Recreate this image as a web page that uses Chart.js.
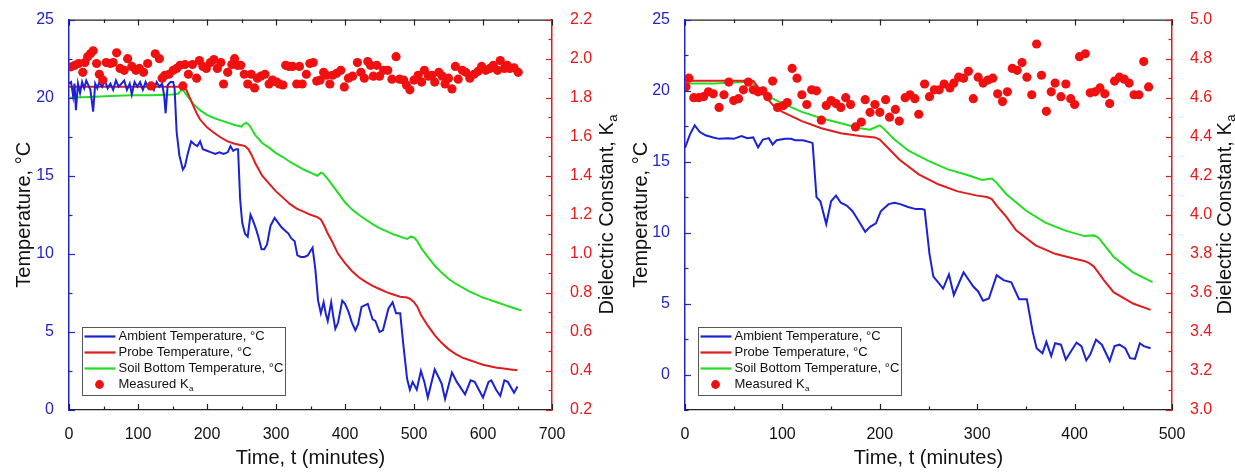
<!DOCTYPE html>
<html>
<head>
<meta charset="utf-8">
<script src="https://cdn.jsdelivr.net/npm/chart.js@4.4.0/dist/chart.umd.min.js"></script>
<style>
  body { margin: 0; background: #fff; }
  .row { display: flex; width: 1235px; height: 472px; }
  .panel { position: relative; height: 472px; }
</style>
</head>
<body>
<div class="row">
  <div class="panel" style="width:617px"><canvas id="left"></canvas></div>
  <div class="panel" style="width:618px"><canvas id="right"></canvas></div>
</div>
<script>
// ---- left panel data ----
const ambTimeA = [0,3,6,8,10,13,16,19,22,25,28,31,35,38,41,44,48,52,56,60,64,68,72,76,80,84,88,91,95,99,103,107,111,115,119,123,127,131,135,138,140,143,147,151,153,156,160,165,168,172,177,182,186,190,194,200,206,212,218,224,230,234,238,242,245,248,251,255,259,263,266,271,275,279,283,287,292,298,303,308,313,318,322,327,331,336,341,346,353,357,361,365,369,372,375,380,383,386,390,396,400,405,410,415,419,424,433,440,444,450,455,463,469,474,480,485,490,494,498,504,510,515,520,530,540,545,555,562,574,582,588,594,600,608,612,619,625,631,636,645,650];
const ambTempA = [20.9,21.0,20.1,20.9,19.2,20.9,20.3,21.0,20.6,21.1,20.8,20.5,19.1,20.9,20.6,21.0,20.7,21.1,20.6,20.9,20.5,21.1,20.7,20.9,21.1,20.5,20.9,20.2,21.0,20.7,21.0,20.5,21.0,20.6,20.9,20.5,21.0,20.7,20.9,20.1,19.0,20.8,21.0,21.0,20.6,17.8,16.3,15.4,15.6,16.4,17.2,17.0,16.9,17.2,16.7,16.6,16.5,16.4,16.5,16.4,16.5,16.9,16.6,16.7,16.7,13.5,12.0,11.3,11.1,12.5,12.2,11.6,11.0,10.3,10.3,10.6,11.8,12.3,12.0,11.7,11.5,11.3,11.0,10.8,9.9,9.8,9.8,9.9,10.4,9.0,7.0,6.2,6.9,6.2,5.7,6.9,6.0,5.2,5.6,7.0,6.8,6.3,5.6,5.1,5.5,6.6,6.8,5.8,5.7,5.0,5.1,6.5,6.9,6.2,6.2,4.0,2.0,1.3,1.8,1.3,2.5,1.8,0.8,2.6,1.7,0.7,2.4,1.8,1.0,1.9,1.8,1.3,0.8,1.8,1.9,1.3,0.9,1.9,1.8,1.1,1.5];

const probeTimeA = [0,165,170,175,180,185,190,200,210,220,230,240,250,255,260,265,270,280,290,300,310,320,330,340,350,360,365,370,375,380,390,400,410,420,430,440,450,460,470,480,490,495,500,505,510,520,530,540,550,560,570,580,590,600,610,620,630,640,650];
const probeTempA = [20.7,20.7,20.5,20.0,19.5,19.0,18.6,18.1,17.75,17.45,17.2,17.05,16.95,16.9,16.7,16.3,15.8,15.0,14.5,14.0,13.6,13.2,12.9,12.7,12.5,12.35,12.2,11.8,11.3,10.9,10.0,9.4,8.9,8.5,8.2,7.95,7.75,7.55,7.4,7.25,7.2,7.1,6.9,6.6,6.1,5.4,4.8,4.3,3.9,3.6,3.35,3.2,3.05,2.9,2.8,2.7,2.65,2.6,2.55];

const soilTimeA = [0,30,60,90,120,150,158,163,166,170,175,180,190,200,210,220,230,240,250,253,257,262,270,280,290,300,310,320,330,340,350,360,365,368,375,380,390,400,410,420,430,440,450,460,470,480,490,495,500,505,510,520,530,540,550,560,570,580,590,600,610,620,630,640,650,656];
const soilTempA = [20.0,20.05,20.1,20.15,20.15,20.2,20.25,20.5,20.45,20.2,19.9,19.6,19.2,18.9,18.7,18.55,18.4,18.25,18.15,18.3,18.4,18.2,17.6,17.1,16.8,16.45,16.2,15.9,15.65,15.4,15.2,15.0,15.2,15.15,14.8,14.5,13.9,13.3,12.85,12.5,12.2,11.9,11.65,11.45,11.25,11.1,10.95,11.1,11.05,10.8,10.4,9.8,9.25,8.8,8.4,8.1,7.85,7.6,7.4,7.2,7.05,6.9,6.75,6.6,6.45,6.38];

const kaTimeA = [3,8.5,14,20,23,27,31,35,40,44,49,54,60,64,69,74,80,85,91,97,102,108,114,119,125,131,135,139,145,151,156,161,165,168,173,179,185,189,194,199,205,210,215,220,224,230,236,240,244,249,254,259,264,269,273,278,284,290,295,301,305,310,314,319,324,330,334,338,344,349,354,359,364,369,373,378,382,388,394,399,405,411,418,423,428,433,437,441,446,450,456,462,468,474,479,485,489,494,500,506,511,515,521,526,530,536,541,545,550,555,560,564,570,575,581,587,593,598,604,610,615,621,625,631,635,639,645,651];
const kaA = [1.958,1.966,1.975,1.93,1.98,2.01,2.025,2.04,1.975,1.92,1.89,1.98,1.975,1.98,2.03,1.95,1.94,2.0,1.96,1.94,1.95,1.93,1.975,1.86,2.025,2.0,1.9,1.915,1.92,1.94,1.95,1.966,1.86,1.97,1.92,1.97,1.9,1.99,1.96,1.95,1.98,1.995,1.95,1.98,1.87,1.93,1.97,2.0,1.966,1.966,1.92,1.87,1.92,1.85,1.9,1.91,1.92,1.87,1.89,1.88,1.87,1.865,1.966,1.96,1.96,1.87,1.96,1.87,1.92,1.975,1.98,1.885,1.89,1.93,1.915,1.87,1.915,1.925,1.94,1.855,1.9,1.91,1.98,1.93,1.9,1.985,1.966,1.91,1.966,1.91,1.94,1.94,1.895,2.01,1.895,1.89,1.865,1.84,1.89,1.915,1.88,1.94,1.91,1.915,1.88,1.93,1.91,1.87,1.9,1.845,1.96,1.895,1.94,1.93,1.9,1.92,1.935,1.96,1.94,1.95,1.966,1.94,1.99,1.95,1.966,1.95,1.953,1.93];

const timeTicksA = [0,100,200,300,400,500,600,700];
const tempTicksA = [0,5,10,15,20,25];
const kaTicksA = [0.2,0.4,0.6,0.8,1.0,1.2,1.4,1.6,1.8,2.0,2.2];

// ---- right panel data ----
const ambTimeB = [0,5,10,15,21,29,35,44,50,58,64,70,75,80,86,90,94,103,109,113,121,129,131,135,139,145,150,155,160,166,172,178,185,190,196,201,209,215,221,229,237,243,246,251,255,261,265,271,276,286,296,301,306,312,320,327,335,343,351,357,361,367,371,376,380,386,391,396,402,407,412,416,422,428,436,441,446,452,457,462,467,471,478];
const ambTempB = [15.97,16.9,17.55,17.1,16.85,16.7,16.6,16.65,16.6,16.8,16.65,16.7,16.0,16.55,16.65,16.2,16.5,16.6,16.6,16.5,16.5,16.35,16.3,12.5,12.2,10.6,12.2,12.6,12.1,11.9,11.5,10.85,10.05,10.4,10.65,11.5,12.0,12.1,12.0,11.8,11.65,11.65,11.6,8.5,6.9,6.4,6.05,7.05,5.6,7.2,6.2,5.85,5.2,5.35,7.0,6.65,6.5,5.3,5.3,3.0,1.85,1.5,2.3,1.3,2.2,2.1,1.05,1.6,2.25,2.0,1.0,1.4,2.45,2.1,0.95,2.0,2.1,1.85,1.15,1.1,2.2,2.0,1.85];

const probeTimeB = [0,70,80,90,100,120,140,160,180,195,200,210,220,240,260,280,300,310,315,320,330,340,360,380,400,410,415,420,430,440,460,478];
const probeTempB = [20.7,20.7,19.8,19.0,18.5,17.85,17.35,17.0,16.8,16.7,16.55,15.85,15.15,14.1,13.4,12.9,12.6,12.5,12.35,11.9,11.1,10.15,9.1,8.5,8.15,8.0,7.85,7.6,6.65,5.8,5.0,4.55];

const soilTimeB = [0,30,60,65,75,85,100,120,140,160,180,190,195,200,205,215,230,250,270,290,305,310,315,320,330,350,370,390,410,420,425,440,460,480];
const soilTempB = [20.5,20.5,20.6,20.8,20.15,19.6,19.1,18.5,18.05,17.7,17.35,17.25,17.4,17.55,17.25,16.55,15.75,15.05,14.45,14.05,13.7,13.75,13.8,13.5,12.7,11.55,10.7,10.15,9.75,9.8,9.6,8.3,7.2,6.5];

const kaTimeB = [1,4,9,14,19,24,29,35,40,45,50,55,60,65,70,75,80,85,90,95,101,105,110,115,120,125,130,135,140,145,150,155,160,165,170,175,181,185,190,195,200,206,210,216,220,226,231,236,240,246,251,256,261,266,272,276,281,286,291,296,301,306,311,316,321,326,331,336,341,346,351,356,361,366,371,376,380,386,391,396,400,405,411,416,421,426,431,436,441,446,451,456,461,466,471,476];
const kaB = [4.656,4.70,4.60,4.60,4.605,4.63,4.62,4.55,4.615,4.68,4.585,4.595,4.64,4.68,4.64,4.63,4.635,4.605,4.685,4.55,4.56,4.575,4.75,4.70,4.615,4.565,4.64,4.635,4.485,4.56,4.585,4.57,4.55,4.60,4.565,4.45,4.475,4.59,4.525,4.565,4.525,4.59,4.50,4.54,4.48,4.60,4.615,4.595,4.515,4.67,4.605,4.64,4.64,4.67,4.65,4.675,4.705,4.70,4.735,4.595,4.705,4.675,4.69,4.70,4.62,4.58,4.63,4.75,4.74,4.78,4.705,4.615,4.875,4.715,4.53,4.63,4.675,4.605,4.67,4.595,4.565,4.81,4.825,4.625,4.63,4.65,4.62,4.57,4.685,4.705,4.695,4.675,4.615,4.615,4.785,4.655];

const timeTicksB = [0,100,200,300,400,500];
const tempTicksB = [0,5,10,15,20,25];
const kaTicksB = [3.0,3.2,3.4,3.6,3.8,4.0,4.2,4.4,4.6,4.8,5.0];

// ---- style ----
const BLUE = '#1a22d8';
const RED = '#e01c1c';
const GREEN = '#22dd22';
const DOT = '#f01010';
const AXBLUE = '#2424c8';
const AXRED = '#e81818';
Chart.defaults.font.family = "'Liberation Sans', Arial, sans-serif";

function pts(xs, ys) { return xs.map((x, i) => ({ x: x, y: ys[i] })); }

// draw "K_a" style text with subscript
function drawRich(ctx, text, x, y, size, align) {
  const parts = text.split('_');
  ctx.font = size + "px 'Liberation Sans', Arial, sans-serif";
  const w1 = ctx.measureText(parts[0]).width;
  let w2 = 0;
  if (parts[1]) { ctx.font = Math.round(size * 0.65) + "px 'Liberation Sans', Arial, sans-serif"; w2 = ctx.measureText(parts[1]).width; }
  const sx = align === 'center' ? x - (w1 + w2) / 2 : x;
  ctx.textAlign = 'left';
  ctx.textBaseline = 'middle';
  ctx.font = size + "px 'Liberation Sans', Arial, sans-serif";
  ctx.fillText(parts[0], sx, y);
  if (parts[1]) {
    ctx.font = Math.round(size * 0.65) + "px 'Liberation Sans', Arial, sans-serif";
    ctx.fillText(parts[1], sx + w1 + 0.5, y + size * 0.32);
  }
}

// inward major/minor ticks on all four sides + top frame line
const inTicks = {
  id: 'inTicks',
  afterDatasetsDraw(chart, args, opts) {
    const ctx = chart.ctx, a = chart.chartArea;
    ctx.save();
    ctx.strokeStyle = '#222';
    ctx.lineWidth = 1.2;
    ctx.beginPath(); ctx.moveTo(a.left, a.top + 0.5); ctx.lineTo(a.right, a.top + 0.5); ctx.stroke();
    opts.axes.forEach(ax => {
      const s = chart.scales[ax.id];
      const n = Math.round((s.max - ax.start) / ax.minor);
      ctx.strokeStyle = ax.color;
      ctx.lineWidth = 1.2;
      for (let k = 0; k <= n; k++) {
        const v = ax.start + k * ax.minor;
        const r = v / ax.major;
        const len = Math.abs(r - Math.round(r)) < 1e-6 ? 6 : 3.5;
        const p = Math.round(s.getPixelForValue(v)) + 0.5;
        ctx.beginPath();
        if (s.isHorizontal()) {
          ctx.moveTo(p, a.bottom); ctx.lineTo(p, a.bottom - len);
          ctx.moveTo(p, a.top); ctx.lineTo(p, a.top + len);
        } else if (s.position === 'left') {
          ctx.moveTo(a.left, p); ctx.lineTo(a.left + len, p);
        } else {
          ctx.moveTo(a.right, p); ctx.lineTo(a.right - len, p);
        }
        ctx.stroke();
      }
    });
    ctx.restore();
  },
  afterDraw(chart) {
    // right axis title, reading bottom to top
    const ctx = chart.ctx, a = chart.chartArea, s = chart.scales.y2;
    ctx.save();
    ctx.translate(s.right - 10, (a.top + a.bottom) / 2);
    ctx.rotate(-Math.PI / 2);
    ctx.fillStyle = '#111';
    drawRich(ctx, 'Dielectric Constant, K_a', 0, 0, 20, 'center');
    ctx.restore();
  }
};

// boxed legend in the lower-left corner of the plot
const boxLegend = {
  id: 'boxLegend',
  afterDraw(chart) {
    const ctx = chart.ctx, a = chart.chartArea;
    const w = 203, h = 68;
    const x0 = Math.round(a.left + 13) + 0.5, y0 = Math.round(a.bottom - 15 - h) + 0.5;
    ctx.save();
    ctx.fillStyle = '#fff';
    ctx.fillRect(x0, y0, w, h);
    ctx.strokeStyle = '#555';
    ctx.lineWidth = 1;
    ctx.strokeRect(x0, y0, w, h);
    [1, 2, 3, 0].forEach((di, i) => {
      const ds = chart.data.datasets[di];
      const cy = y0 + 9 + i * 16;
      if (ds.showLine === false) {
        ctx.fillStyle = ds.pointBackgroundColor;
        ctx.beginPath(); ctx.arc(x0 + 17, cy, 4.4, 0, Math.PI * 2); ctx.fill();
      } else {
        ctx.strokeStyle = ds.borderColor;
        ctx.lineWidth = 2.2;
        ctx.beginPath(); ctx.moveTo(x0 + 2, cy); ctx.lineTo(x0 + 33, cy); ctx.stroke();
      }
      ctx.fillStyle = '#111';
      drawRich(ctx, ds.label, x0 + 36, cy, 13, 'left');
    });
    ctx.restore();
  }
};

function makePanel(id, p) {
  const lineDs = (label, data, color) => ({
    label: label, data: data, borderColor: color, backgroundColor: color,
    borderWidth: 2, pointRadius: 0, tension: 0, yAxisID: 'y'
  });
  return new Chart(document.getElementById(id), {
    type: 'line',
    data: {
      datasets: [
        { label: 'Measured K_a', data: pts(p.kaTime, p.ka), yAxisID: 'y2', showLine: false,
          pointRadius: 4.6, pointBorderWidth: 0, pointBackgroundColor: DOT, borderColor: DOT, backgroundColor: DOT },
        lineDs('Ambient Temperature, °C', pts(p.ambTime, p.amb), BLUE),
        lineDs('Probe Temperature, °C', pts(p.probeTime, p.probe), RED),
        lineDs('Soil Bottom Temperature, °C', pts(p.soilTime, p.soil), GREEN)
      ]
    },
    options: {
      responsive: true,
      maintainAspectRatio: false,
      animation: false,
      layout: { padding: { top: 18, left: 0, right: 0, bottom: 0 } },
      plugins: {
        legend: { display: false },
        tooltip: { enabled: false },
        inTicks: { axes: [
          { id: 'x', major: 100, minor: 50, start: 0, color: '#222' },
          { id: 'y', major: 5, minor: 2.5, start: p.yMin, color: AXBLUE },
          { id: 'y2', major: 0.2, minor: 0.1, start: p.kaTicks[0], color: AXRED }
        ] }
      },
      scales: {
        x: {
          type: 'linear', min: 0, max: p.timeTicks[p.timeTicks.length - 1],
          afterFit: s => { s.height = 62; },
          afterBuildTicks: s => { s.ticks = p.timeTicks.map(v => ({ value: v })); },
          grid: { display: false },
          border: { color: '#222', width: 1.2 },
          ticks: { color: '#111', font: { size: 16 }, padding: 7, maxRotation: 0 },
          title: { display: true, text: 'Time, t (minutes)', color: '#111', font: { size: 20 }, padding: { top: 0, bottom: 2 } }
        },
        y: {
          position: 'left', min: p.yMin, max: 25,
          afterFit: s => { s.width = p.leftW; },
          afterBuildTicks: s => { s.ticks = p.tempTicks.map(v => ({ value: v })); },
          grid: { display: false },
          border: { color: AXBLUE, width: 1.5 },
          ticks: { color: AXBLUE, font: { size: 16 }, padding: 7 },
          title: { display: true, text: 'Temperature, °C', color: '#111', font: { size: 20 }, padding: { top: 12, bottom: 0 } }
        },
        y2: {
          position: 'right', min: p.kaTicks[0], max: p.kaTicks[p.kaTicks.length - 1],
          afterFit: s => { s.width = p.rightW; },
          afterBuildTicks: s => { s.ticks = p.kaTicks.map(v => ({ value: v })); },
          grid: { display: false },
          border: { color: AXRED, width: 1.5 },
          ticks: { color: AXRED, font: { size: 16 }, padding: 10, callback: v => Number(v).toFixed(1) }
        }
      }
    },
    plugins: [inTicks, boxLegend]
  });
}

makePanel('left', {
  ambTime: ambTimeA, amb: ambTempA, probeTime: probeTimeA, probe: probeTempA,
  soilTime: soilTimeA, soil: soilTempA, kaTime: kaTimeA, ka: kaA,
  timeTicks: timeTicksA, tempTicks: tempTicksA, kaTicks: kaTicksA,
  yMin: 0, leftW: 69, rightW: 65
});
makePanel('right', {
  ambTime: ambTimeB, amb: ambTempB, probeTime: probeTimeB, probe: probeTempB,
  soilTime: soilTimeB, soil: soilTempB, kaTime: kaTimeB, ka: kaB,
  timeTicks: timeTicksB, tempTicks: tempTicksB, kaTicks: kaTicksB,
  yMin: -2.5, leftW: 68, rightW: 63
});
</script>
</body>
</html>
